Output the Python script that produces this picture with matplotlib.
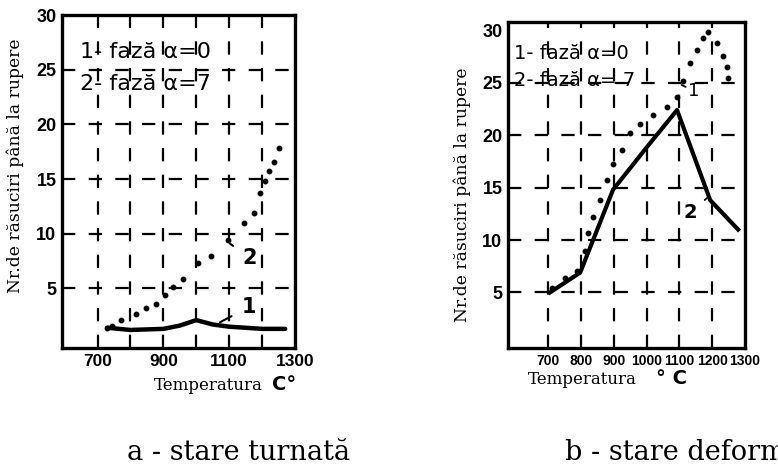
import matplotlib.pyplot as plt
import numpy as np

# --- panel a (cast state) ---
a_temp_1 = [730, 800, 900, 950, 1000, 1050, 1100, 1200, 1270]
a_twist_1 = [1.4, 1.2, 1.3, 1.6, 2.1, 1.7, 1.5, 1.3, 1.3]
a_temp_2 = [730, 745, 772, 817, 846, 877, 906, 930, 960, 1005, 1044, 1095,
            1146, 1176, 1194, 1209, 1221, 1236, 1251]
a_twist_2 = [1.4, 1.6, 2.1, 2.7, 3.2, 3.6, 4.4, 5.1, 5.9, 7.3, 8.0, 9.4,
             11.0, 11.9, 13.7, 14.8, 15.7, 16.6, 17.8]

# --- panel b (deformed state) ---
b_temp_1 = [712, 752, 788, 813, 822, 837, 859, 880, 898, 926, 950, 980, 1020,
            1063, 1093, 1112, 1133, 1154, 1172, 1188, 1215, 1233, 1245, 1249]
b_twist_1 = [5.4, 6.4, 7.0, 9.0, 10.7, 12.2, 13.8, 15.7, 17.3, 18.6, 20.2, 21.1,
             21.9, 22.7, 23.6, 25.2, 26.9, 28.1, 29.3, 29.8, 28.8, 27.6, 26.5, 25.5]
b_temp_2 = [706, 798, 898, 1002, 1093, 1194, 1279]
b_twist_2 = [5.0, 6.9, 14.8, 18.9, 22.4, 13.8, 11.0]

y_ticks = [5, 10, 15, 20, 25, 30]
grid_x = [700, 800, 900, 1000, 1100, 1200]
grid_y = [5, 10, 15, 20, 25]
a_xticks = [700, 900, 1100, 1300]
b_xticks = [700, 800, 900, 1000, 1100, 1200, 1300]

SERIF = "DejaVu Serif"
TICKF = "Liberation Sans"

W, H = 778, 466
fig = plt.figure(figsize=(W / 100, H / 100), dpi=100)


def px_axes(left, top, right, bottom):
    return fig.add_axes([left / W, (H - bottom) / H, (right - left) / W, (bottom - top) / H])


def style_axes(ax, xlim, ylim, xticks, xfs):
    ax.set_xlim(*xlim)
    ax.set_ylim(*ylim)
    for s in ax.spines.values():
        s.set_linewidth(2.4)
    for gx in grid_x:
        ax.axvline(gx, color="black", lw=1.6, ls=(0, (6, 6)), zorder=1)
    for gy in grid_y:
        ax.axhline(gy, color="black", lw=1.6, ls=(0, (6, 6)), zorder=1)
    ax.set_yticks(y_ticks)
    ax.set_yticklabels([str(t) for t in y_ticks], fontsize=13, fontweight="bold", family=TICKF)
    ax.set_xticks(xticks)
    ax.set_xticklabels([str(t) for t in xticks], fontsize=xfs, fontweight="bold", family=TICKF)
    ax.tick_params(length=0, pad=4)
    ax.set_ylabel("Nr.de răsuciri până la rupere", family=SERIF, fontsize=12.3, va="center")


def fig_text(x, y, s, **kw):
    fig.text(x / W, 1 - y / H, s, **kw)


# panel a
ax1 = px_axes(62, 15, 295, 348)
style_axes(ax1, (592, 1300), (-0.45, 30), a_xticks, 12.5)
ax1.yaxis.set_label_coords(-0.2, 0.547)
ax1.plot(a_temp_1, a_twist_1, color="black", lw=3.2, solid_capstyle="round", zorder=3)
ax1.plot(a_temp_2, a_twist_2, color="black", lw=0, marker="o", ms=3.2, zorder=3)
ax1.text(647, 26.6, "1- fază α=0", fontsize=16, va="center", zorder=4)
ax1.text(647, 23.7, "2- fază α=7", fontsize=16, va="center", zorder=4)
ax1.annotate("1", xy=(1072, 1.9), xytext=(1160, 3.3), ha="center", va="center",
             fontsize=15, fontweight="bold",
             arrowprops=dict(arrowstyle="-", lw=1.5, color="black", shrinkA=6, shrinkB=0), zorder=4)
ax1.annotate("2", xy=(1102, 9.1), xytext=(1163, 7.8), ha="center", va="center",
             fontsize=15, fontweight="bold",
             arrowprops=dict(arrowstyle="-", lw=1.5, color="black", shrinkA=6, shrinkB=0), zorder=4)
fig_text(208, 386, "Temperatura", family=SERIF, fontsize=12, ha="center", va="center")
fig_text(284, 385, "C°", fontsize=14, fontweight="bold", ha="center", va="center")

# panel b
ax2 = px_axes(508, 22, 745, 348)
style_axes(ax2, (578, 1300), (-0.3, 30.8), b_xticks, 10)
ax2.yaxis.set_label_coords(-0.194, 0.47)
ax2.plot(b_temp_2, b_twist_2, color="black", lw=3.0, zorder=3)
ax2.plot(b_temp_1, b_twist_1, color="black", lw=0, marker="o", ms=3.2, zorder=3)
ax2.text(595, 27.8, "1- fază α=0", fontsize=14, va="center", zorder=4)
ax2.text(595, 25.2, "2- fază α= 7", fontsize=14, va="center", zorder=4)
ax2.annotate("1", xy=(1107, 24.8), xytext=(1145, 24.2), ha="center", va="center",
             fontsize=13,
             arrowprops=dict(arrowstyle="-", lw=1.3, color="black", shrinkA=5, shrinkB=0), zorder=4)
ax2.annotate("2", xy=(1184, 14.0), xytext=(1132, 12.6), ha="center", va="center",
             fontsize=14, fontweight="bold",
             arrowprops=dict(arrowstyle="-", lw=1.3, color="black", shrinkA=5, shrinkB=0), zorder=4)
fig_text(582, 380, "Temperatura", family=SERIF, fontsize=12, ha="center", va="center")
fig_text(672, 379, "° C", fontsize=14, fontweight="bold", ha="center", va="center")

# captions
fig_text(127, 460, "a - stare turnată", family=SERIF, fontsize=19.5, va="baseline")
fig_text(565, 460, "b - stare deformată", family=SERIF, fontsize=19.5, va="baseline")

fig.savefig("out.png", dpi=100)
